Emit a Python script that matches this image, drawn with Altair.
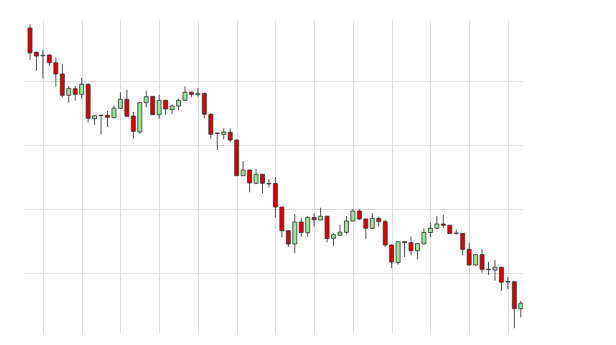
import altair as alt
import pandas as pd

opens = [48.3, 44.5, 43.95, 44.07, 42.86, 41.10, 37.76, 38.79, 37.92, 39.48,
         34.10, 34.65, 34.63, 34.26, 35.73, 37.14, 34.52, 32.02, 36.60, 37.61,
         34.73, 36.98, 35.51, 36.09, 36.98, 38.23, 37.86, 38.08, 34.79, 31.85,
         31.66, 31.97, 30.77, 25.18, 26.07, 23.99, 25.40, 23.95, 23.96, 20.28,
         16.57, 14.49, 17.93, 16.26, 18.64, 18.25, 18.84, 15.38, 15.87, 16.32,
         18.09, 19.66, 18.40, 16.95, 18.48, 17.98, 14.33, 11.61, 14.85, 14.69,
         13.44, 14.49, 16.29, 16.95, 17.62, 17.43, 16.20, 16.16, 13.66, 11.21,
         12.82, 10.55, 10.42, 10.85, 8.60, 8.59, 4.37]
highs = [48.9, 44.6, 44.85, 44.2, 43.65, 42.66, 39.22, 39.22, 40.47, 39.64,
         34.6, 34.7, 35.31, 36.2, 38.23, 38.64, 35.15, 36.71, 38.48, 37.65,
         37.86, 37.0, 36.35, 37.23, 39.17, 38.33, 38.9, 38.1, 34.95, 31.95,
         32.6, 32.6, 30.8, 27.48, 26.1, 26.23, 25.45, 24.66, 24.98, 20.3,
         16.6, 19.19, 18.56, 18.87, 19.30, 20.17, 18.9, 16.17, 17.51, 18.87,
         19.92, 19.92, 18.45, 19.30, 18.76, 18.25, 14.4, 14.96, 14.9, 15.67,
         14.6, 16.96, 17.86, 18.87, 19.03, 17.45, 16.75, 16.2, 14.69, 12.9,
         13.66, 11.67, 11.99, 10.9, 9.37, 8.6, 5.57]
lows = [43.3, 41.6, 40.4, 42.35, 39.1, 37.45, 36.6, 36.92, 37.23, 33.47,
        33.11, 31.6, 32.80, 34.2, 35.7, 34.45, 30.97, 31.75, 35.88, 34.7,
        34.10, 34.73, 34.84, 35.46, 36.95, 37.45, 37.54, 34.16, 31.03, 29.2,
        30.88, 30.41, 25.15, 25.15, 22.58, 23.83, 22.43, 23.3, 18.64, 15.51,
        14.02, 13.04, 15.63, 15.63, 17.20, 18.2, 14.73, 14.18, 15.74, 16.0,
        18.05, 18.25, 15.27, 16.9, 17.20, 14.07, 10.69, 11.25, 12.46, 12.69,
        12.07, 14.45, 15.59, 16.9, 16.95, 16.1, 15.98, 12.77, 11.05, 11.1,
        10.0, 9.64, 8.75, 7.14, 7.40, 1.30, 3.02]
closes = [44.4, 43.91, 44.05, 42.86, 41.10, 37.76, 38.86, 37.92, 39.48, 34.16,
          34.57, 34.6, 34.32, 35.77, 37.14, 34.48, 32.13, 36.60, 37.54, 34.73,
          36.98, 35.62, 36.09, 36.98, 38.23, 37.92, 38.08, 34.79, 31.66, 31.8,
          32.02, 30.77, 25.18, 26.07, 24.04, 25.40, 23.99, 23.9, 20.28, 16.57,
          14.49, 17.93, 16.29, 18.64, 18.29, 18.84, 15.35, 15.95, 16.34, 18.09,
          19.66, 18.40, 16.95, 18.51, 17.98, 14.33, 11.66, 14.85, 14.69, 13.44,
          14.57, 16.29, 16.95, 17.62, 17.43, 16.13, 16.15, 13.66, 11.21, 12.82,
          10.53, 10.5, 10.85, 8.50, 8.55, 4.37, 5.21]

grid_x = [2, 8, 14, 20, 26, 32, 38, 44, 50, 56, 62, 68, 74]
grid_y = [10, 20, 30, 40]

df = pd.DataFrame({
    "i": list(range(len(opens))),
    "open": opens, "high": highs, "low": lows, "close": closes,
})
df["dir"] = ["up" if c >= o else "down" for o, c in zip(opens, closes)]

xs = alt.Scale(domain=[-0.93, 76.34], nice=False, zero=False, padding=0)
ys = alt.Scale(domain=[0.56, 49.55], nice=False, zero=False, padding=0)

xax = alt.Axis(values=grid_x, grid=True, labels=False, ticks=False, domain=False,
               title=None, gridColor="#dddddd", gridWidth=1)
yax = alt.Axis(values=grid_y, grid=True, labels=False, ticks=False, domain=False,
               title=None, gridColor="#dddddd", gridWidth=1)

base = alt.Chart(df)

wicks = base.mark_rule(color="#555555", strokeWidth=1).encode(
    x=alt.X("i:Q", scale=xs, axis=xax),
    y=alt.Y("low:Q", scale=ys, axis=yax),
    y2="high:Q",
)

bodies = base.mark_bar(size=4, stroke="#333333", strokeWidth=0.8).encode(
    x=alt.X("i:Q", scale=xs),
    y=alt.Y("open:Q", scale=ys),
    y2="close:Q",
    color=alt.Color("dir:N", scale=alt.Scale(domain=["up", "down"],
                                             range=["#98e698", "#e00000"]),
                    legend=None),
)

chart = (wicks + bodies).properties(
    width=499, height=313,
    padding={"left": 24, "top": 20, "right": 0, "bottom": 0},
    autosize=alt.AutoSizeParams(type="none"),
    background="white",
).configure_view(stroke=None)

chart.save("out.html", embed_options={"renderer": "svg", "actions": False})
